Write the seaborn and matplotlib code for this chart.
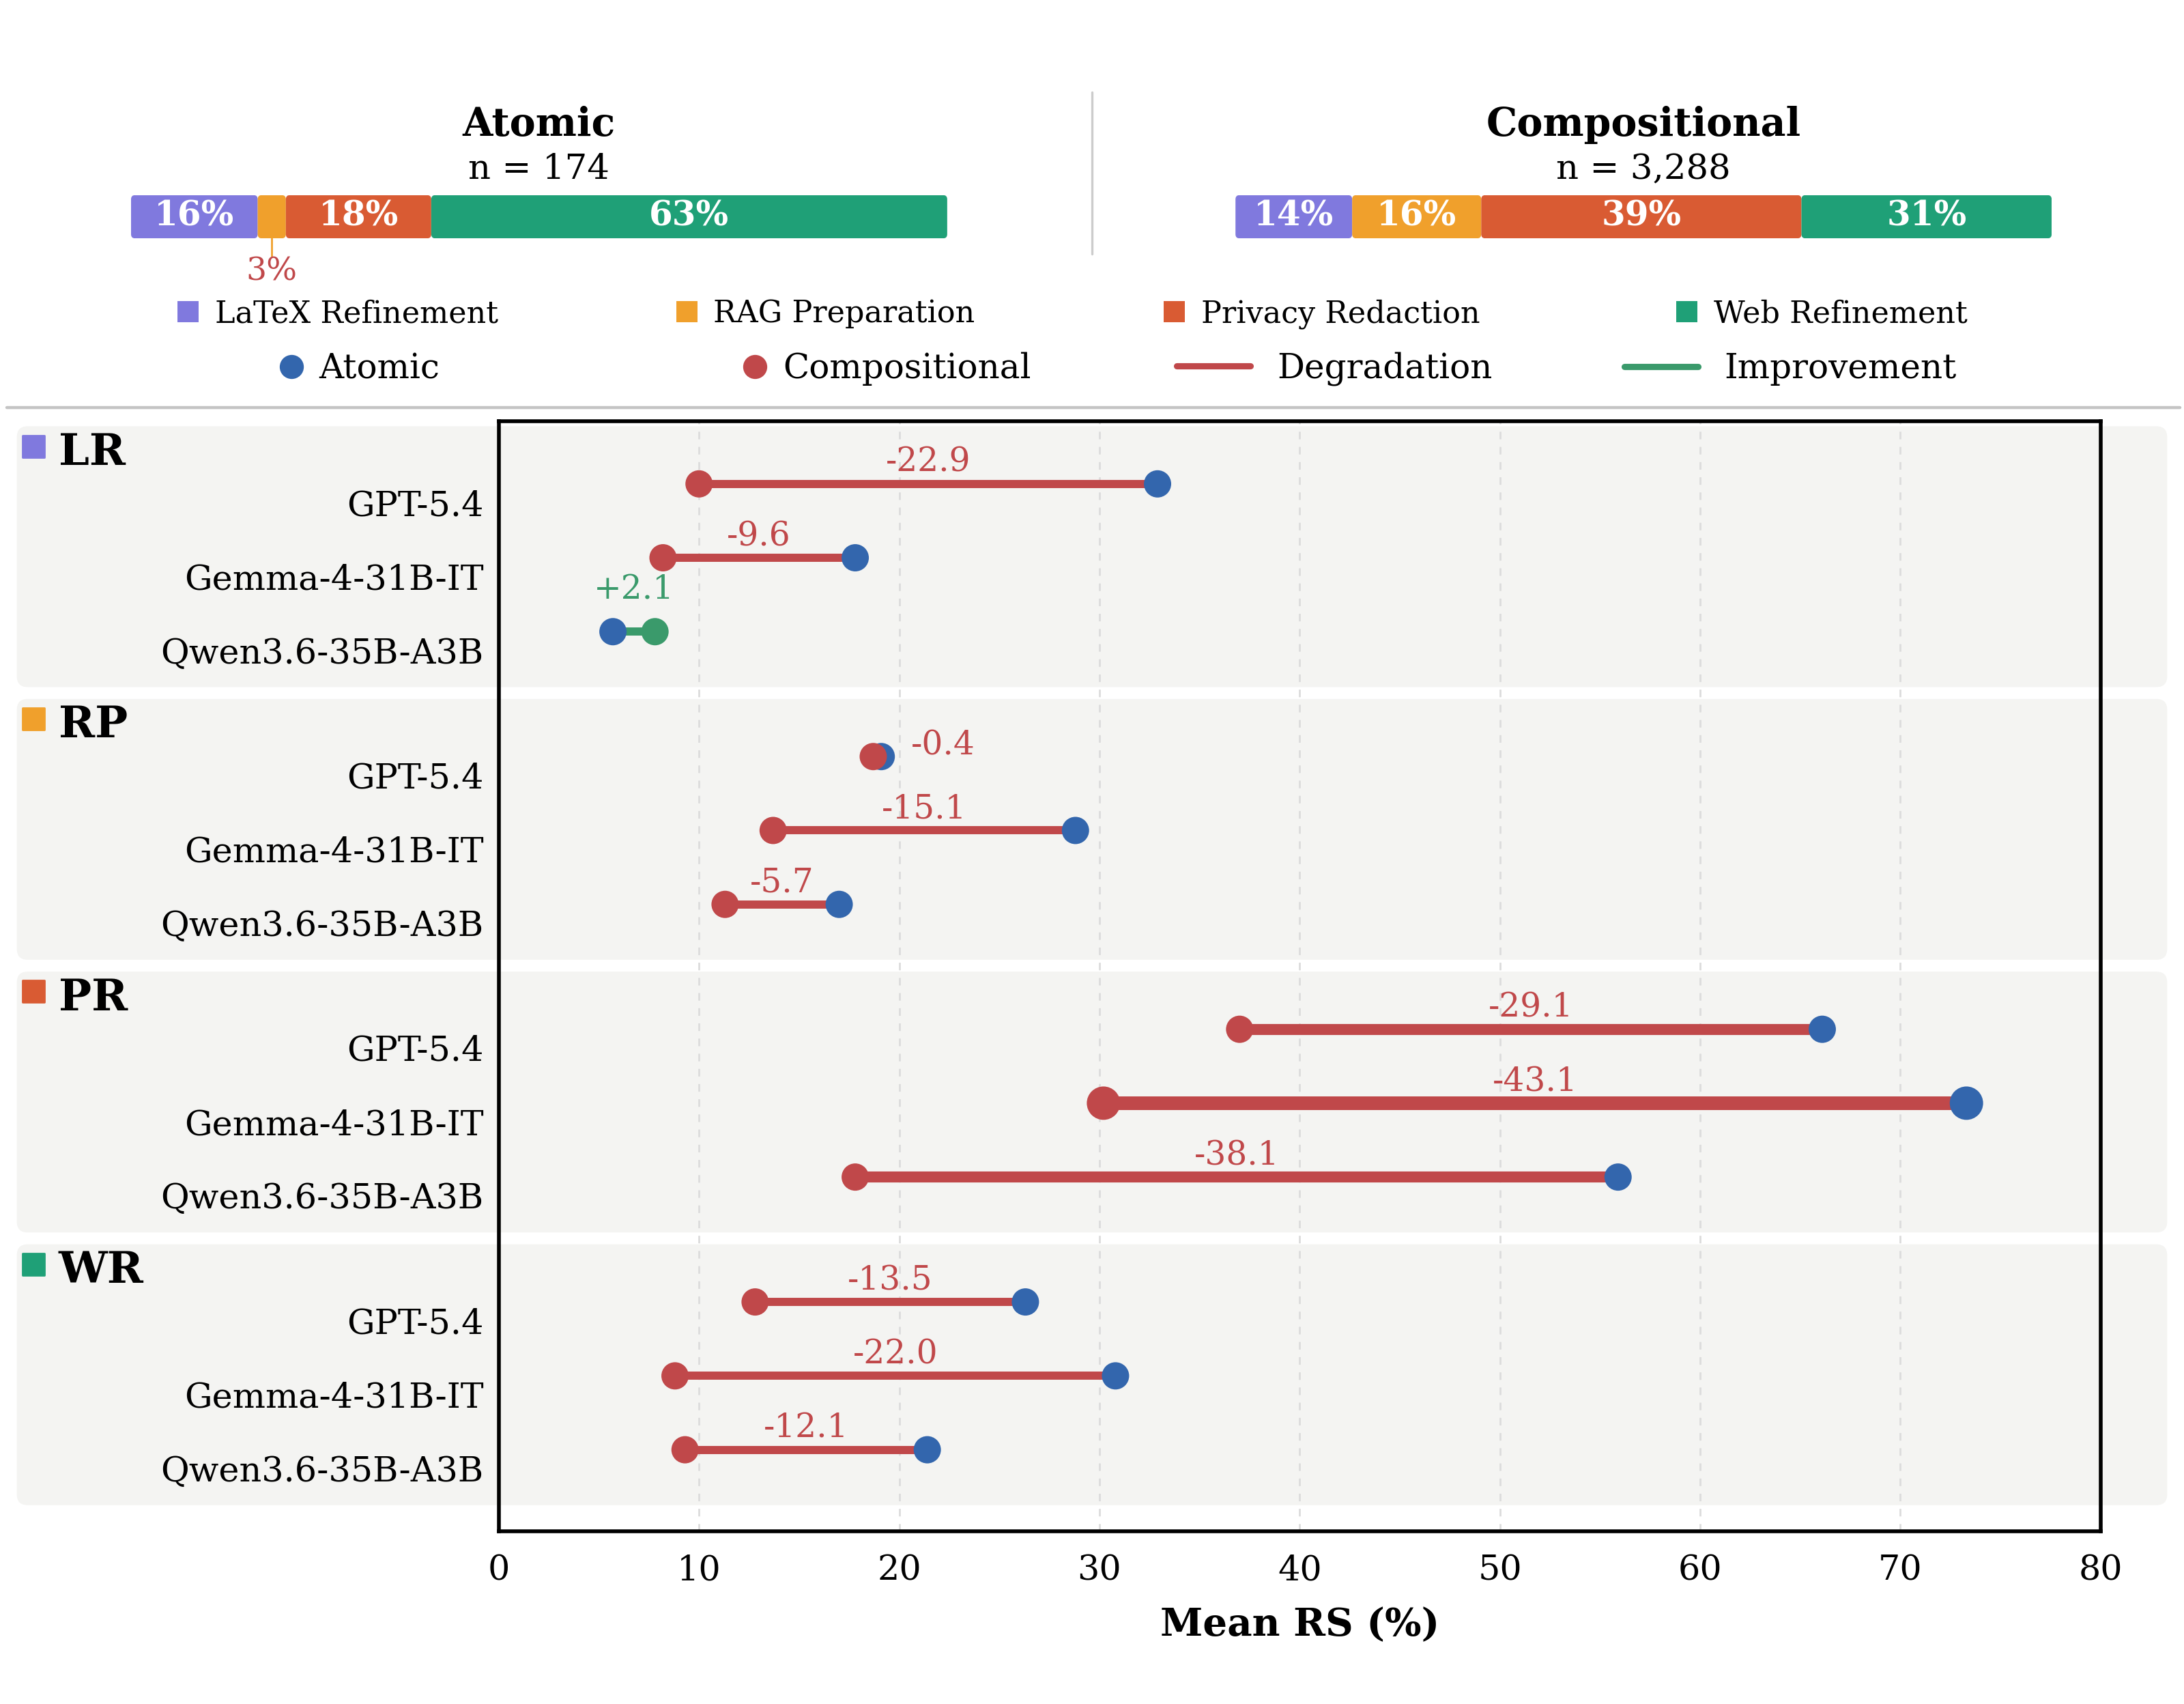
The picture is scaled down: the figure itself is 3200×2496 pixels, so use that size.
import numpy as np
import pandas as pd
import matplotlib.pyplot as plt
import seaborn as sns
from matplotlib.lines import Line2D
from matplotlib.patches import Patch, FancyBboxPatch
from matplotlib.transforms import blended_transform_factory

# 1. Data
tasks = ["LR", "RP", "PR", "WR"]
task_names = ["LaTeX Refinement", "RAG Preparation", "Privacy Redaction", "Web Refinement"]
task_colors = ["#8079de", "#f0a02c", "#d95b33", "#1fa077"]
models = ["GPT-5.4", "Gemma-4-31B-IT", "Qwen3.6-35B-A3B"]

atomic_rs = [32.9, 17.8, 5.7,
             19.1, 28.8, 17.0,
             66.1, 73.3, 55.9,
             26.3, 30.8, 21.4]
comp_rs = [10.0, 8.2, 7.8,
           18.7, 13.7, 11.3,
           37.0, 30.2, 17.8,
           12.8, 8.8, 9.3]

atomic_counts = [27, 6, 31, 110]
comp_counts = [470, 520, 1290, 1008]

BLUE = "#3366ad"
RED = "#c0484a"
GREEN = "#3a9a6b"
BAND = "#f4f4f2"

#2. Build table
group_gap = 3.69
rows = []
for g, t in enumerate(tasks):
    for i, m in enumerate(models):
        k = g * 3 + i
        rows.append({"task": t, "model": m, "atomic": atomic_rs[k], "comp": comp_rs[k],
                     "y": g * group_gap + i})
df = pd.DataFrame(rows)
df["delta"] = df["comp"] - df["atomic"]
df["direction"] = np.where(df["delta"] < 0, "Degradation", "Improvement")
imax = df["delta"].abs().idxmax()
df["lw"] = np.where(df["delta"].abs() >= 25, 5.8, 4.3)
df.loc[imax, "lw"] = 7.2
df["dot"] = 1
df.loc[imax, "dot"] = 2

sns.set_theme(style="white")
plt.rcParams["font.family"] = ["DejaVu Serif"]
plt.rcParams["text.color"] = "black"
plt.rcParams["axes.labelcolor"] = "black"
plt.rcParams["xtick.color"] = "black"
plt.rcParams["ytick.color"] = "black"

fig = plt.figure(figsize=(16, 12.48), dpi=200)

#3. Top composition bars
BAR_W = 0.3737
BAR_H = 0.0254

def comp_bar(x0, title, counts):
    axb = fig.add_axes([x0, 0.8601, BAR_W, BAR_H])
    total = sum(counts)
    lefts = np.cumsum([0] + counts[:-1])
    bars = axb.barh([0] * 4, counts, left=lefts, height=1.0, color=task_colors, edgecolor="none")
    axb.set_xlim(0, total)
    axb.set_ylim(-0.5, 0.5)
    axb.axis("off")
    # swap the plain rectangles for slightly rounded ones
    w_px = BAR_W * fig.get_figwidth() * fig.dpi
    h_px = BAR_H * fig.get_figheight() * fig.dpi
    r = 6 * total / w_px
    asp = (1 / h_px) / (total / w_px)
    for p in list(bars.patches):
        x, y = p.get_x(), p.get_y()
        w, h = p.get_width(), p.get_height()
        fc = p.get_facecolor()
        p.remove()
        axb.add_patch(FancyBboxPatch((x, y), w, h, boxstyle=f"round,pad=0,rounding_size={r}",
                                     mutation_aspect=asp, facecolor=fc, edgecolor="none"))
    for c, l, col in zip(counts, lefts, task_colors):
        pct = 100 * c / total
        cx = l + c / 2
        if pct < 5:
            axb.plot([cx, cx], [-0.5, -0.9], color=col, lw=1.0, clip_on=False)
            axb.text(cx, -1.27, f"{pct:.0f}%", ha="center", va="center", color=RED, fontsize=17)
        else:
            axb.text(cx, 0, f"{pct:.0f}%", ha="center", va="center", color="white",
                     fontsize=18, fontweight="bold")
    xc = x0 + BAR_W / 2
    fig.text(xc, 0.9265, title, ha="center", va="center", fontsize=20.5, fontweight="bold")
    fig.text(xc, 0.9005, f"n = {total:,}", ha="center", va="center", fontsize=18.5)

comp_bar(0.060, "Atomic", atomic_counts)
comp_bar(0.5657, "Compositional", comp_counts)

fig.add_artist(Line2D([0.5, 0.5], [0.851, 0.946], color="#cccccc", lw=1.2))
fig.add_artist(Line2D([0.003, 0.998], [0.761, 0.761], color="#c4c4c4", lw=1.6))

#4. Legends (one entry each, so they sit where the original puts them)
row1_x = [0.0813, 0.3096, 0.5328, 0.7675]
for name, col, x in zip(task_names, task_colors, row1_x):
    fig.legend(handles=[Patch(facecolor=col, edgecolor="none")], labels=[name],
               loc="center left", bbox_to_anchor=(x, 0.8158), frameon=False, fontsize=16,
               borderpad=0, borderaxespad=0, handlelength=0.7, handleheight=0.7,
               handletextpad=0.53)

row2 = [
    (Line2D([], [], marker="o", ls="none", markersize=11.7, color=BLUE), "Atomic", 0.1255, 1.0, 0.32),
    (Line2D([], [], marker="o", ls="none", markersize=11.7, color=RED), "Compositional", 0.3378, 1.0, 0.32),
    (Line2D([], [], color=RED, lw=3.3, solid_capstyle="round"), "Degradation", 0.5389, 2.16, 0.78),
    (Line2D([], [], color=GREEN, lw=3.3, solid_capstyle="round"), "Improvement", 0.7436, 2.16, 0.78),
]
for h, lab, x, hl, tp in row2:
    fig.legend(handles=[h], labels=[lab], loc="center left", bbox_to_anchor=(x, 0.7835),
               frameon=False, fontsize=18, borderpad=0, borderaxespad=0,
               handlelength=hl, handletextpad=tp)

#5. Dumbbell chart
ax = fig.add_axes([0.2284, 0.1015, 0.7334, 0.6514])
ax.set_facecolor("none")
ax.set_xlim(0, 80)
ax.set_ylim(14.17, -0.85)

# group bands across the whole width
trans = blended_transform_factory(fig.transFigure, ax.transData)
px_per_unit = fig.get_figheight() * fig.dpi * 0.6514 / 15.02
aspect = fig.get_figwidth() * fig.dpi / px_per_unit
for g, (t, col) in enumerate(zip(tasks, task_colors)):
    y0 = g * group_gap
    band = FancyBboxPatch((0.0077, y0 - 0.78), 0.9846, 3.53,
                          boxstyle="round,pad=0,rounding_size=0.005",
                          mutation_aspect=aspect, transform=trans,
                          facecolor=BAND, edgecolor="none", zorder=0, clip_on=False)
    ax.add_patch(band)
    ax.scatter([0.0153], [y0 - 0.51], marker="s", s=130, color=col, transform=trans,
               clip_on=False, zorder=1)
    ax.text(0.0268, y0 - 0.42, t, transform=trans, ha="left", va="center",
            fontsize=23, fontweight="bold", clip_on=False)

ax.hlines(df["y"], df["comp"], df["atomic"],
          colors=[RED if d < 0 else GREEN for d in df["delta"]],
          linewidths=df["lw"], zorder=2)
sns.scatterplot(data=df, x="atomic", y="y", size="dot", sizes=(207, 310), color=BLUE,
                edgecolor="none", legend=False, zorder=3, ax=ax)
sns.scatterplot(data=df, x="comp", y="y", size="dot", sizes=(207, 310), hue="direction",
                palette={"Degradation": RED, "Improvement": GREEN},
                edgecolor="none", legend=False, zorder=4, ax=ax)

for _, r in df.iterrows():
    col = RED if r["delta"] < 0 else GREEN
    txt = f"{r['delta']:+.1f}" if r["delta"] > 0 else f"{r['delta']:.1f}"
    span = abs(r["delta"])
    if span < 1:
        ax.text(max(r["atomic"], r["comp"]) + 1.5, r["y"] - 0.15, txt, color=col,
                fontsize=17.5, ha="left", va="center", zorder=5)
    elif span < 3:
        ax.text((r["atomic"] + r["comp"]) / 2, r["y"] - 0.57, txt, color=col,
                fontsize=17.5, ha="center", va="center", zorder=5)
    else:
        ax.text((r["atomic"] + r["comp"]) / 2, r["y"] - 0.29, txt, color=col,
                fontsize=17.5, ha="center", va="center", zorder=5)

ax.set_yticks(df["y"] + 0.25)
ax.set_yticklabels(df["model"], fontsize=18.3)
ax.set_xticks(range(0, 81, 10))
ax.tick_params(axis="x", labelsize=18.3, length=0, pad=12)
ax.tick_params(axis="y", length=0, pad=8)
ax.set_ylabel("")
ax.set_xlabel("Mean RS (%)", fontsize=20.3, fontweight="bold", labelpad=10)
ax.grid(axis="x", linestyle=(0, (4, 4)), color="#dcdcdc", lw=1.0, zorder=0.5)
ax.grid(axis="y", visible=False)
ax.set_axisbelow(True)
for s in ax.spines.values():
    s.set_color("black")
    s.set_linewidth(2)
    s.set_visible(True)

plt.savefig("out.png", dpi=200)
